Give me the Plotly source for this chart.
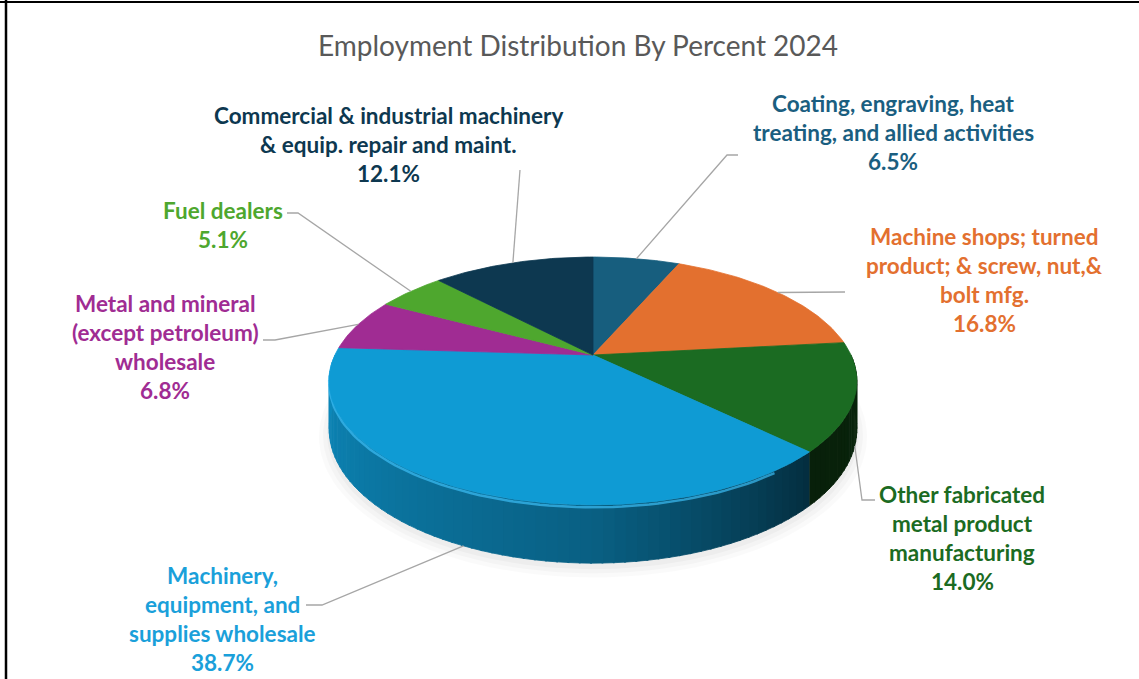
import numpy as np
import plotly.graph_objects as go

# ---------------- data ----------------
categories = [
    "Coating, engraving, heat treating, and allied activities",
    "Machine shops; turned product; & screw, nut,& bolt mfg.",
    "Other fabricated metal product manufacturing",
    "Machinery, equipment, and supplies wholesale",
    "Metal and mineral (except petroleum) wholesale",
    "Fuel dealers",
    "Commercial & industrial machinery & equip. repair and maint.",
]
label_lines = [
    ["Coating, engraving, heat", "treating, and allied activities"],
    ["Machine shops; turned", "product; & screw, nut,&", "bolt mfg."],
    ["Other fabricated", "metal product", "manufacturing"],
    ["Machinery,", "equipment, and", "supplies wholesale"],
    ["Metal and mineral", "(except petroleum)", "wholesale"],
    ["Fuel dealers"],
    ["Commercial & industrial machinery", "& equip. repair and maint."],
]
percent = [6.5, 16.8, 14.0, 38.7, 6.8, 5.1, 12.1]

slice_colors = ["#175E7E", "#E3702F", "#1B6B22", "#0F9BD4", "#A02C93", "#4EA72E", "#0D3850"]
text_colors = ["#1A5E80", "#E3702F", "#1B6B22", "#1AA0DA", "#A02C93", "#4EA72E", "#0D3850"]

# label layout: (center x, first line y) and leader elbow / end points
label_pos = [(893, 103), (984, 236), (962, 494), (222, 575), (165, 303), (223, 210), (388, 115)]
leader_pts = [
    [(727, 155), (738, 155)],
    [(845, 292)],
    [(862, 500), (875, 500)],
    [(322, 605), (306, 605)],
    [(275, 340), (263, 340)],
    [(298, 213), (287, 213)],
    [(520, 170)],
]
LINE_STEP = 29

# ---------------- geometry (3D-like pie) ----------------
W, H = 1139, 679
cx, cy = 593, 355
SX = 258.0
SY = 118.5
D = 4.77
H0 = 46.0


def proj(theta_deg, depth=0.0):
    th = np.radians(np.asarray(theta_deg, dtype=float))
    u = np.sin(th)
    v = -np.cos(th)
    f = D / (D - v)
    return cx + SX * u * f, cy + SY * v * f + depth * H0 * f


def hex2rgb(h):
    h = h.lstrip("#")
    return np.array([int(h[i:i + 2], 16) for i in (0, 2, 4)], dtype=float)


def shade(hexcol, k):
    c = np.clip(hex2rgb(hexcol) * k, 0, 255).astype(int)
    return "rgb(%d,%d,%d)" % tuple(c)


def shade_factor(theta):
    return float(np.interp(theta, [90, 135, 180, 230, 270], [0.36, 0.30, 0.62, 0.78, 0.90]))


fig = go.Figure()

# soft shadow under the base
for i, a in enumerate([0.018, 0.022, 0.028]):
    grow = 10 - i * 4
    th = np.linspace(0, 360, 181)
    x, y = proj(th, 1.0)
    xs = cx + (x - cx) * (1 + grow / SX)
    ys = y + 4 + (y - cy) * grow / 200
    fig.add_trace(go.Scatter(x=xs, y=ys, mode="lines", fill="toself",
                             fillcolor="rgba(0,0,0,%.3f)" % a,
                             line=dict(width=0), hoverinfo="skip"))

cum = np.concatenate([[0], np.cumsum(percent)])
angles0 = cum[:-1] / cum[-1] * 360
angles1 = cum[1:] / cum[-1] * 360

# side walls (front half only)
for i in range(len(percent)):
    a0 = max(angles0[i], 90)
    a1 = min(angles1[i], 270)
    if a1 <= a0:
        continue
    n = max(2, int(np.ceil((a1 - a0) / 2.0)))
    edges = np.linspace(a0, a1, n + 1)
    for j in range(n):
        th = np.linspace(edges[j], min(edges[j + 1] + 0.3, a1), 4)
        xt, yt = proj(th, 0)
        xb, yb = proj(th[::-1], 1)
        col = shade(slice_colors[i], shade_factor((edges[j] + edges[j + 1]) / 2))
        fig.add_trace(go.Scatter(x=np.concatenate([xt, xb]), y=np.concatenate([yt, yb]),
                                 mode="lines", fill="toself", fillcolor=col,
                                 line=dict(width=0.8, color=col), hoverinfo="skip"))

# rim highlight just below the top edge of the largest slice
th = np.linspace(angles0[3] + 10, angles1[3] - 2, 80)
x, y = proj(th, 0.04)
fig.add_trace(go.Scatter(x=x, y=y, mode="lines",
                         line=dict(width=2.5, color="rgba(60,190,245,0.7)"),
                         hoverinfo="skip"))

# top faces
for i in range(len(percent)):
    th = np.linspace(angles0[i], angles1[i], max(8, int(percent[i] * 4)))
    x, y = proj(th, 0)
    xs = np.concatenate([[cx], x, [cx]])
    ys = np.concatenate([[cy], y, [cy]])
    fig.add_trace(go.Scatter(x=xs, y=ys, mode="lines", fill="toself",
                             fillcolor=slice_colors[i],
                             line=dict(width=0.8, color=slice_colors[i]),
                             hoverinfo="skip"))

# leader lines and labels
annotations = []
for i in range(len(percent)):
    mid = (angles0[i] + angles1[i]) / 2
    depth = 1.0 if 90 < mid < 270 else 0.0
    ax_, ay_ = proj(mid, depth)
    pts = [(float(ax_), float(ay_))] + leader_pts[i]
    fig.add_trace(go.Scatter(x=[p[0] for p in pts], y=[p[1] for p in pts], mode="lines",
                             line=dict(width=1.3, color="#A6A6A6"), hoverinfo="skip"))
    lx, ly = label_pos[i]
    lines = label_lines[i] + ["%.1f%%" % percent[i]]
    for k, txt in enumerate(lines):
        annotations.append(dict(x=lx, y=ly + k * LINE_STEP, xref="x", yref="y", text="<b>%s</b>" % txt,
                                showarrow=False, xanchor="center", yanchor="middle",
                                font=dict(family="Lato", size=22.5, color=text_colors[i])))

annotations.append(dict(x=578, y=45, xref="x", yref="y",
                        text="Employment Distribution By Percent 2024", showarrow=False,
                        xanchor="center", yanchor="middle",
                        font=dict(family="Lato", size=28, color="#595959")))

shapes = [
    dict(type="line", x0=6, x1=6, y0=0, y1=H, xref="x", yref="y", line=dict(color="black", width=2.5)),
    dict(type="line", x0=0, x1=W, y0=2, y1=2, xref="x", yref="y", line=dict(color="black", width=2)),
]

fig.update_layout(
    width=W, height=H, margin=dict(l=0, r=0, t=0, b=0),
    paper_bgcolor="white", plot_bgcolor="white", showlegend=False,
    xaxis=dict(range=[0, W], visible=False, fixedrange=True),
    yaxis=dict(range=[H, 0], visible=False, fixedrange=True),
    annotations=annotations, shapes=shapes, hovermode=False,
)

fig.write_html("out.html")
